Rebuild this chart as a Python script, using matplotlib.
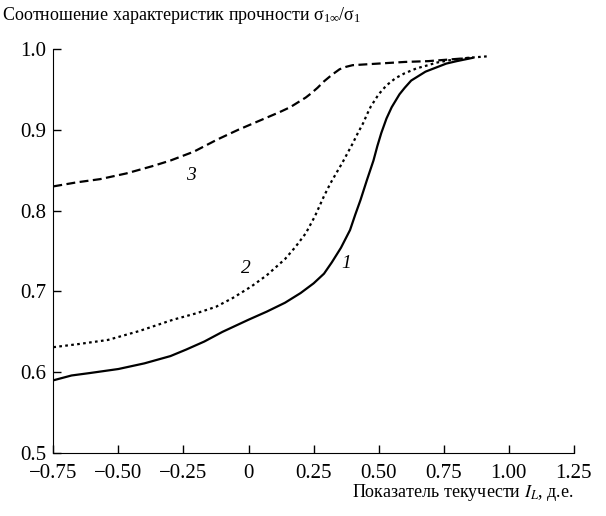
import matplotlib
matplotlib.use('Agg')
import matplotlib.pyplot as plt

# =============================================================================
#                               Data
# =============================================================================

# curve 1 (solid)
x1 = [-0.75, -0.68, -0.61, -0.50, -0.40, -0.30, -0.24, -0.17, -0.10, 0.0,
      0.07, 0.14, 0.20, 0.25, 0.29, 0.32, 0.355, 0.39, 0.41, 0.43, 0.455,
      0.48, 0.495, 0.51, 0.53, 0.55, 0.58, 0.60, 0.625, 0.65, 0.68, 0.72,
      0.76, 0.80, 0.86]
y1 = [0.590, 0.596, 0.599, 0.604, 0.611, 0.620, 0.628, 0.638, 0.650, 0.665,
      0.675, 0.686, 0.698, 0.710, 0.722, 0.736, 0.754, 0.776, 0.795, 0.813,
      0.838, 0.862, 0.880, 0.896, 0.914, 0.928, 0.944, 0.952, 0.961, 0.966,
      0.972, 0.977, 0.982, 0.985, 0.989]

# curve 2 (dotted)
x2 = [-0.75, -0.65, -0.54, -0.42, -0.29, -0.20, -0.125, -0.06, 0.01, 0.07,
      0.14, 0.18, 0.22, 0.255, 0.29, 0.315, 0.34, 0.36, 0.375, 0.40, 0.42,
      0.44, 0.455, 0.47, 0.50, 0.53, 0.565, 0.60, 0.645, 0.69, 0.72, 0.77,
      0.84, 0.92]
y2 = [0.631, 0.635, 0.640, 0.651, 0.665, 0.673, 0.681, 0.692, 0.706, 0.720,
      0.740, 0.755, 0.772, 0.793, 0.818, 0.834, 0.848, 0.859, 0.868, 0.883,
      0.896, 0.908, 0.919, 0.929, 0.944, 0.955, 0.964, 0.970, 0.976, 0.980,
      0.983, 0.986, 0.989, 0.991]

# curve 3 (dashed)
x3 = [-0.75, -0.66, -0.57, -0.47, -0.37, -0.30, -0.21, -0.12, -0.04, 0.04,
      0.12, 0.16, 0.20, 0.22, 0.24, 0.265, 0.29, 0.32, 0.35, 0.375, 0.40,
      0.45, 0.50, 0.60, 0.69, 0.77, 0.85]
y3 = [0.830, 0.835, 0.839, 0.846, 0.855, 0.862, 0.873, 0.888, 0.900, 0.911,
      0.922, 0.928, 0.936, 0.940, 0.945, 0.952, 0.960, 0.968, 0.975, 0.978,
      0.980, 0.981, 0.982, 0.984, 0.985, 0.987, 0.989]

xticks = [-0.75, -0.50, -0.25, 0, 0.25, 0.50, 0.75, 1.00, 1.25]
xtick_labels = ['\u22120.75', '\u22120.50', '\u22120.25', '0', '0.25', '0.50',
                '0.75', '1.00', '1.25']
yticks = [0.5, 0.6, 0.7, 0.8, 0.9, 1.0]

# =============================================================================
#                               Plotting
# =============================================================================

plt.rcParams['font.family'] = ['Liberation Serif', 'DejaVu Serif']
plt.rcParams['mathtext.fontset'] = 'stix'
plt.rcParams['font.size'] = 13

fig = plt.figure(figsize=(6.06, 5.16), dpi=100)
ax = fig.add_axes([0.088, 0.122, 0.859, 0.783])

ax.plot(x1, y1, color='black', lw=1.6, ls='-')
ax.plot(x2, y2, color='black', lw=1.6, ls=(0, (1.2, 1.5)))
ax.plot(x3, y3, color='black', lw=1.6, ls=(0, (4.0, 2.0)))

ax.text(0.375, 0.735, '1', style='italic', fontsize=14, ha='center', va='center')
ax.text(-0.01, 0.728, '2', style='italic', fontsize=14, ha='center', va='center')
ax.text(-0.22, 0.843, '3', style='italic', fontsize=14, ha='center', va='center')

ax.set_xlim(-0.75, 1.25)
ax.set_ylim(0.5, 1.0)
ax.set_xticks(xticks)
ax.set_xticklabels(xtick_labels)
ax.set_yticks(yticks)
ax.set_yticklabels(['%.1f' % v for v in yticks])
ax.tick_params(direction='in', length=6, width=1, labelsize=15)
ax.tick_params(axis='x', pad=8)
ax.tick_params(axis='y', pad=5)

ax.spines['top'].set_visible(False)
ax.spines['right'].set_visible(False)

ax.set_xlabel('Показатель текучести $I_L$, д.е.', loc='right', labelpad=-1)
fig.text(0.003, 0.99, 'Соотношение характеристик прочности '
         '$\\mathregular{\\sigma_{1\\infty}/\\sigma_1}$', ha='left', va='top')

fig.savefig('out.png', dpi=100)
